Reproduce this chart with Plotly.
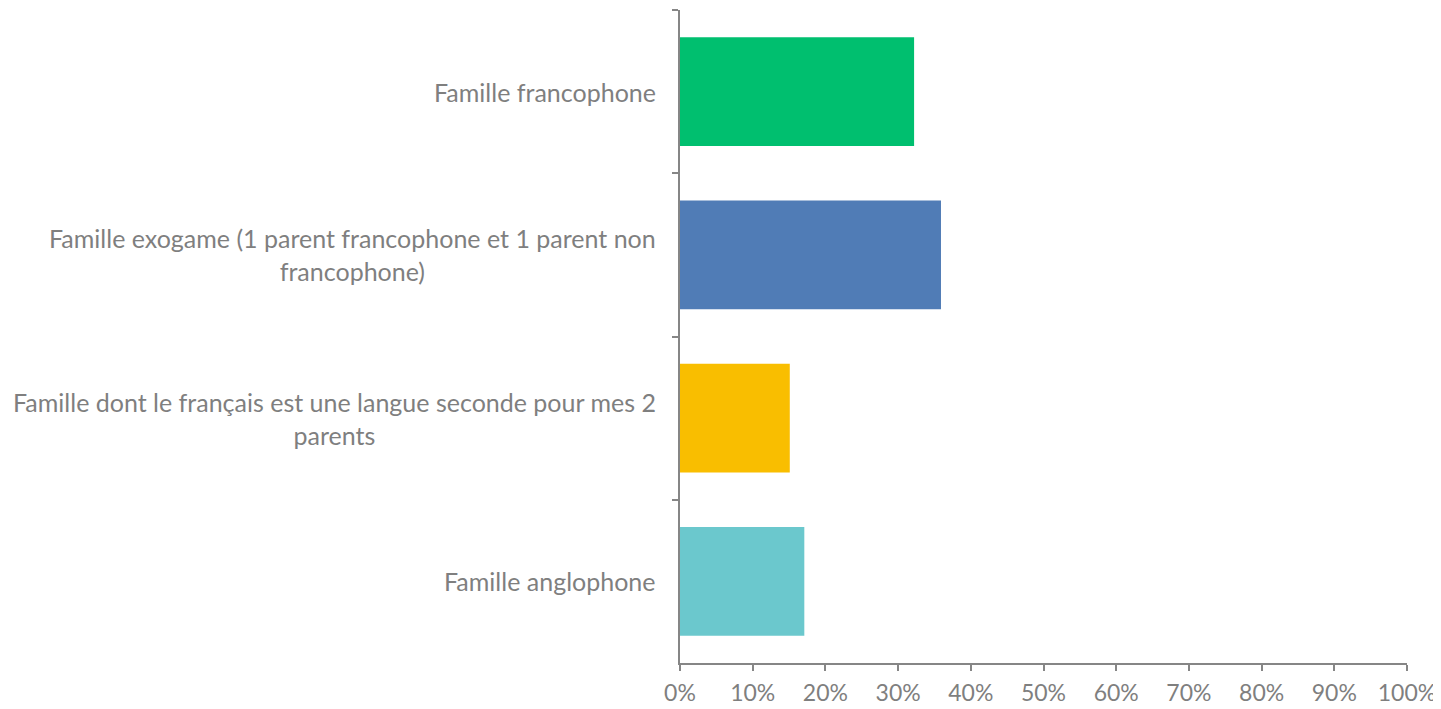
import plotly.graph_objects as go

categories = [
    "Famille francophone",
    "Famille exogame (1 parent francophone et 1 parent non<br>francophone)",
    "Famille dont le français est une langue seconde pour mes 2<br>parents",
    "Famille anglophone",
]
values = [0.322, 0.359, 0.151, 0.171]
colors = ["#00BF6F", "#507CB6", "#F9BE00", "#6BC8CD"]
x_ticks = [i / 10 for i in range(11)]
x_tick_labels = [f"{i * 10}%" for i in range(11)]

FONT = "Lato"
GRAY = "#7f7f7f"
AXIS = "#868686"
LABEL_SIZE = 25
TICK_SIZE = 23

fig = go.Figure(
    go.Bar(
        y=categories,
        x=values,
        orientation="h",
        marker=dict(color=colors, line=dict(width=0)),
        width=0.667,
        hoverinfo="x+y",
    )
)

for cat in categories:
    fig.add_annotation(
        x=0, xref="paper", y=cat, yref="y",
        text=cat, showarrow=False,
        xanchor="right", yanchor="middle", align="center",
        xshift=-22,
        font=dict(family=FONT, size=LABEL_SIZE, color=GRAY),
    )

fig.update_layout(
    width=1433, height=701,
    margin=dict(l=672, r=34, t=2, b=46),
    paper_bgcolor="white", plot_bgcolor="white",
    showlegend=False,
    font=dict(family=FONT, size=TICK_SIZE, color=GRAY),
)
fig.update_xaxes(
    range=[0, 1], tickvals=x_ticks, ticktext=x_tick_labels,
    automargin=False, ticklabeloverflow="allow",
    showgrid=False, zeroline=False,
    showline=True, linecolor=AXIS, linewidth=1.5,
    ticks="outside", ticklen=6, tickcolor=AXIS, tickwidth=1.5,
    ticklabelstandoff=3,
    tickfont=dict(family=FONT, size=TICK_SIZE, color=GRAY),
)
fig.update_yaxes(
    categoryorder="array", categoryarray=categories,
    autorange="reversed", automargin=False,
    showticklabels=False, showgrid=False, zeroline=False,
    showline=True, linecolor=AXIS, linewidth=1.5,
    ticks="outside", ticklen=6, tickcolor=AXIS, tickwidth=1.5,
    tickson="boundaries",
)

fig.write_html("out.html")
